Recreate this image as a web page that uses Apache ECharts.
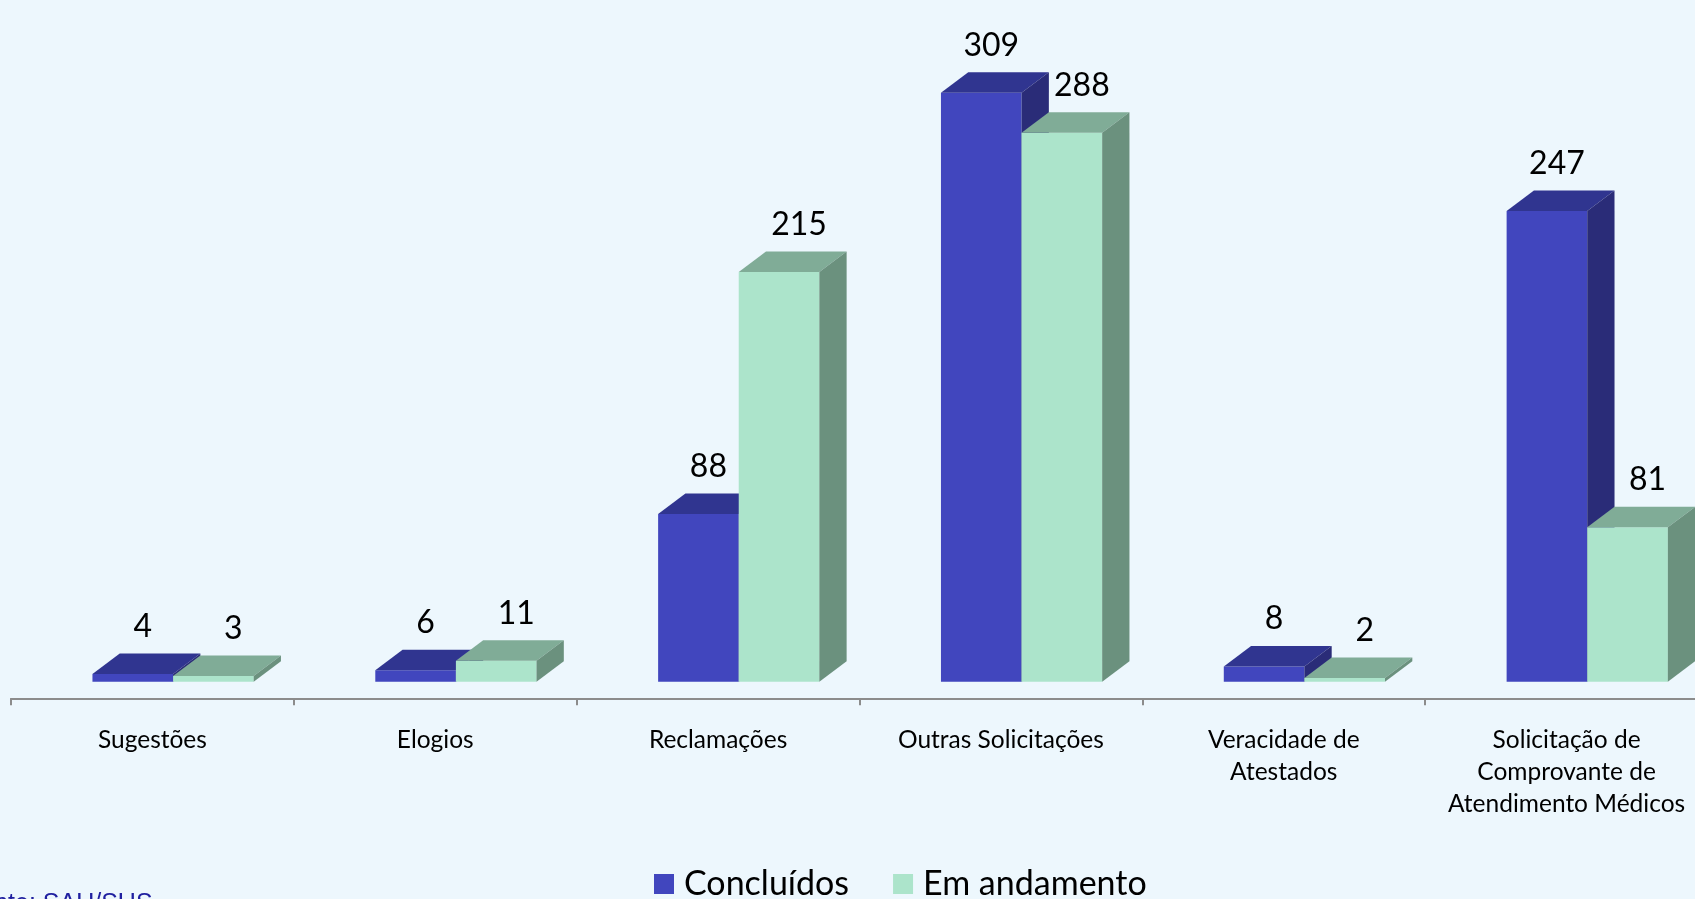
<!DOCTYPE html>
<html>
<head>
<meta charset="utf-8">
<script src="https://cdn.jsdelivr.net/npm/echarts@6/dist/echarts.min.js"></script>
<style>
  html, body { margin: 0; padding: 0; background: #EDF7FD; }
  #chart { width: 1695px; height: 899px; }
</style>
</head>
<body>
<div id="chart"></div>
<script>
const categories = [
  'Sugestões',
  'Elogios',
  'Reclamações',
  'Outras Solicitações',
  'Veracidade de\nAtestados',
  'Solicitação de\nComprovante de\nAtendimento Médicos'
];
const concluidos = [4, 6, 88, 309, 8, 247];
const emAndamento = [3, 11, 215, 288, 2, 81];

// cores das faces: frente, topo, lateral
const faces = [
  { front: '#4146BE', top: '#303590', side: '#2A2C78' },
  { front: '#ACE4CB', top: '#80AC97', side: '#6B917E' }
];
const labelShift = [10, 20];

function renderBox(params, api) {
  const idx = api.value(0);
  const val = api.value(1);
  const top = api.coord([idx, val]);
  const base = api.coord([idx, 0]);
  const band = api.size([1, 0])[0];
  const w = band * 0.285;
  const x0 = top[0] - band * 0.212 + params.seriesIndex * w;
  const dx = band * 0.0965;
  const dy = band * 0.0725;
  const f = faces[params.seriesIndex];
  const yT = top[1];
  const yB = base[1];
  return {
    type: 'group',
    children: [
      { type: 'rect', shape: { x: x0, y: yT, width: w, height: yB - yT }, style: { fill: f.front } },
      { type: 'polygon', shape: { points: [[x0, yT], [x0 + dx, yT - dy], [x0 + w + dx, yT - dy], [x0 + w, yT]] }, style: { fill: f.top } },
      { type: 'polygon', shape: { points: [[x0 + w, yT], [x0 + w + dx, yT - dy], [x0 + w + dx, yB - dy], [x0 + w, yB]] }, style: { fill: f.side } },
      {
        type: 'text',
        x: x0 + w / 2 + labelShift[params.seriesIndex],
        y: yT - dy - 27,
        style: {
          text: String(val),
          fontFamily: 'Lato',
          fontSize: 32,
          fill: '#000',
          align: 'center',
          verticalAlign: 'middle'
        }
      }
    ]
  };
}

const chart = echarts.init(document.getElementById('chart'));
chart.setOption({
  animation: false,
  backgroundColor: '#EDF7FD',
  grid: { left: 11, width: 1697, top: 33.7, bottom: 217.3, containLabel: false, outerBoundsMode: 'none' },
  xAxis: {
    type: 'category',
    data: categories,
    offset: 16.6,
    axisLine: { onZero: false, lineStyle: { color: '#8C8C8C', width: 2 } },
    axisTick: { show: true, interval: 0, length: 7, lineStyle: { color: '#8C8C8C', width: 2 } },
    axisLabel: {
      interval: 0,
      margin: 26,
      fontFamily: 'Lato',
      fontSize: 24.5,
      lineHeight: 32,
      color: '#000'
    }
  },
  yAxis: { type: 'value', min: 0, max: 340, show: false, splitLine: { show: false } },
  legend: {
    left: 654,
    top: 864,
    padding: 0,
    itemWidth: 20,
    itemHeight: 20,
    itemGap: 44,
    icon: 'rect',
    textStyle: { fontFamily: 'Lato', fontSize: 34, lineHeight: 40, color: '#000', padding: [0, 0, 0, 5] },
    data: ['Concluídos', 'Em andamento']
  },
  graphic: [{
    type: 'text',
    x: -35,
    y: 892,
    style: { text: 'Fonte: SAU/SUS', font: '25px "Liberation Sans", Arial', fill: '#2020A0', verticalAlign: 'top' }
  }],
  series: [
    {
      name: 'Concluídos',
      type: 'custom',
      renderItem: renderBox,
      itemStyle: { color: faces[0].front },
      encode: { x: 0, y: 1 },
      data: concluidos.map((v, i) => [i, v])
    },
    {
      name: 'Em andamento',
      type: 'custom',
      renderItem: renderBox,
      itemStyle: { color: faces[1].front },
      encode: { x: 0, y: 1 },
      data: emAndamento.map((v, i) => [i, v])
    }
  ]
});
</script>
</body>
</html>
